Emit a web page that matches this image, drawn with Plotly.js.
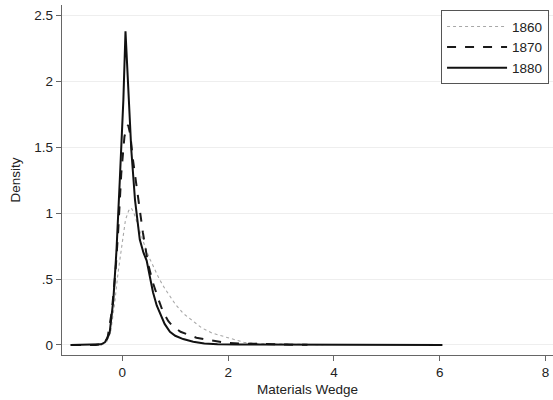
<!DOCTYPE html>
<html><head><meta charset="utf-8">
<script src="https://cdn.plot.ly/plotly-3.0.1.min.js"></script>
<style>html,body{margin:0;padding:0;background:#fff}#chart{width:553px;height:400px}</style>
</head><body><div id="chart"></div>
<script>
// 1860 (dotted)
const x1860 = [-0.4, -0.3, -0.22, -0.15, -0.08, 0.0, 0.06, 0.12, 0.17, 0.22, 0.3, 0.4, 0.5, 0.6, 0.7, 0.8, 0.9, 1.0, 1.15, 1.3, 1.5, 1.7, 1.9, 2.1, 2.3, 2.6, 3.0, 3.4, 3.8];
const y1860 = [0, 0.02, 0.1, 0.3, 0.55, 0.8, 0.95, 1.02, 1.04, 1.0, 0.9, 0.78, 0.67, 0.58, 0.5, 0.43, 0.37, 0.31, 0.24, 0.19, 0.13, 0.09, 0.065, 0.04, 0.02, 0.01, 0.008, 0.004, 0.002];
// 1870 (dashed)
const x1870 = [-0.95, -0.5, -0.35, -0.28, -0.2, -0.13, -0.08, -0.02, 0.04, 0.08, 0.11, 0.15, 0.2, 0.3, 0.39, 0.49, 0.58, 0.68, 0.77, 0.87, 0.96, 1.1, 1.25, 1.4, 1.6, 1.8, 2.0, 2.2, 2.5, 3.0, 3.5];
const y1870 = [0, 0, 0.01, 0.05, 0.25, 0.55, 0.85, 1.3, 1.58, 1.65, 1.67, 1.6, 1.41, 1.1, 0.85, 0.61, 0.47, 0.35, 0.25, 0.18, 0.14, 0.1, 0.075, 0.055, 0.04, 0.025, 0.015, 0.012, 0.008, 0.004, 0.001];
// 1880 (solid)
const x1880 = [-0.98, -0.6, -0.4, -0.33, -0.24, -0.17, -0.11, -0.05, 0.02, 0.06, 0.11, 0.17, 0.24, 0.33, 0.4, 0.46, 0.52, 0.58, 0.65, 0.72, 0.8, 0.9, 1.0, 1.15, 1.34, 1.55, 1.8, 2.2, 3.0, 4.0, 5.0, 6.05];
const y1880 = [0, 0.002, 0.005, 0.02, 0.09, 0.34, 0.72, 1.23, 1.86, 2.38, 1.99, 1.48, 1.1, 0.8, 0.7, 0.64, 0.52, 0.4, 0.3, 0.23, 0.16, 0.1, 0.07, 0.045, 0.025, 0.012, 0.006, 0.003, 0.002, 0.001, 0, 0];

const xTicks = [0, 2, 4, 6, 8];
const xTickText = ["0", "2", "4", "6", "8"];
const yTicks = [0, 0.5, 1, 1.5, 2, 2.5];
const yTickText = ["0", ".5", "1", "1.5", "2", "2.5"];

const font = "Liberation Sans, Arial, sans-serif";
const traces = [
  {x: x1860, y: y1860, name: "1860", mode: "lines", line: {color: "#a8a8a8", width: 1.1, dash: "dot"}},
  {x: x1870, y: y1870, name: "1870", mode: "lines", line: {color: "#1a1a1a", width: 2, dash: "dash"}},
  {x: x1880, y: y1880, name: "1880", mode: "lines", line: {color: "#111111", width: 2}}
];
const layout = {
  width: 553, height: 400,
  margin: {l: 62, r: 0, t: 5, b: 45},
  paper_bgcolor: "#fff", plot_bgcolor: "#fff",
  font: {family: font, size: 13.5, color: "#222"},
  showlegend: true,
  legend: {x: 0.772, y: 0.985, xanchor: "left", yanchor: "top", bordercolor: "#555", borderwidth: 1,
           bgcolor: "#fff", itemwidth: 60, font: {family: font, size: 13.5, color: "#222"}, tracegroupgap: 0},
  xaxis: {range: [-1.14, 8.14], tickvals: xTicks, ticktext: xTickText, ticks: "outside", ticklen: 5,
          tickcolor: "#666", showline: true, linecolor: "#666", linewidth: 1.2, showgrid: false, zeroline: false,
          tickfont: {size: 13.5}, title: {text: "Materials Wedge", font: {size: 13.5}, standoff: 5}},
  yaxis: {range: [-0.076, 2.58], tickvals: yTicks, ticktext: yTickText, ticks: "outside", ticklen: 5,
          tickcolor: "#666", showline: true, linecolor: "#666", linewidth: 1.2, showgrid: true, gridcolor: "#eeeeee",
          zeroline: false, tickfont: {size: 13.5}, title: {text: "Density", font: {size: 13.5}, standoff: 10}}
};
Plotly.newPlot("chart", traces, layout, {displayModeBar: false, staticPlot: true});
</script></body></html>
